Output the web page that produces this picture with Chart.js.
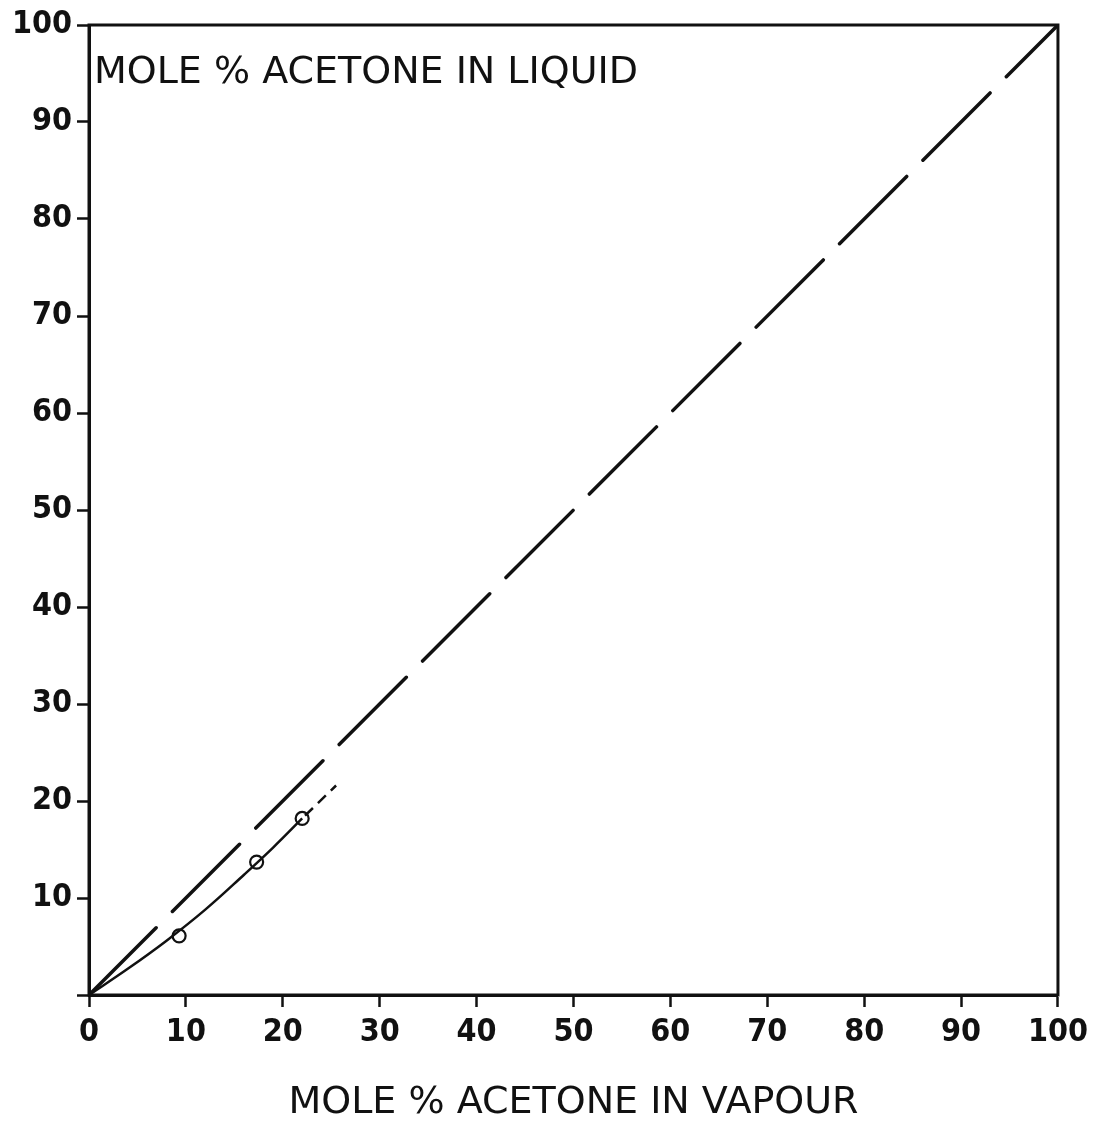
<!DOCTYPE html>
<html>
<head>
<meta charset="utf-8">
<script src="https://cdn.jsdelivr.net/npm/chart.js@4.4.1/dist/chart.umd.min.js"></script>
<style>
  html, body { margin: 0; padding: 0; background: #fff; }
  #wrap { width: 1094px; height: 1127px; }
</style>
</head>
<body>
<div id="wrap"><canvas id="vle"></canvas></div>
<script>
// acetone mole % : vapour (x) vs liquid (y)
const diagX = [0, 100];
const diagY = [0, 100];

const curveX = [0, 4, 8, 12, 16, 19, 22];
const curveY = [0, 2.7, 5.6, 8.8, 12.4, 15.2, 18.2];

const extX = [22, 25.5];
const extY = [18.2, 21.6];

const measuredX = [9.3, 17.3, 22.0];
const measuredY = [6.1, 13.7, 18.2];

const tickValues = [0, 10, 20, 30, 40, 50, 60, 70, 80, 90, 100];

const xTitle = "MOLE % ACETONE IN VAPOUR";
const yTitle = "MOLE % ACETONE IN LIQUID";

const INK = "#111";
const tickFont = { family: "DejaVu Sans Condensed", size: 32, weight: "bold" };
const titleFont = { family: "DejaVu Sans", size: 38 };

const pts = (xs, ys) => xs.map((x, i) => ({ x, y: ys[i] }));

// closed frame + the y label written inside the plot
const frameAndLabel = {
    id: "frameAndLabel",
    afterDraw(chart) {
        const { ctx, chartArea: a } = chart;
        ctx.save();
        ctx.strokeStyle = INK;
        ctx.lineWidth = 3;
        ctx.strokeRect(a.left, a.top, a.right - a.left, a.bottom - a.top);
        ctx.fillStyle = INK;
        ctx.font = `${titleFont.size}px "${titleFont.family}"`;
        ctx.textBaseline = "alphabetic";
        ctx.textAlign = "left";
        ctx.fillText(yTitle, a.left + 5, a.top + 58);
        ctx.restore();
    },
};

const axis = (min, max) => ({
    type: "linear",
    min,
    max,
    afterBuildTicks: (scale) => {
        scale.ticks = tickValues.map((v) => ({ value: v }));
    },
    grid: {
        drawOnChartArea: false,
        drawTicks: true,
        tickLength: 12,
        tickWidth: 2.5,
        tickColor: INK,
    },
    border: { display: true, color: INK, width: 3 },
    ticks: { color: INK, font: tickFont },
});

const xAxis = axis(0, 100);
xAxis.ticks.padding = 6;
xAxis.afterFit = (scale) => { scale.height = 132; };
xAxis.title = {
    display: true,
    text: xTitle,
    color: INK,
    font: titleFont,
    padding: { top: 0, bottom: 1 },
};

const yAxis = axis(0, 100);
yAxis.ticks.padding = 5;
yAxis.ticks.callback = (v) => (v === 0 ? "" : v);
yAxis.afterFit = (scale) => { scale.width = 89; };

new Chart(document.getElementById("vle"), {
    type: "scatter",
    data: {
        datasets: [
            {
                data: pts(diagX, diagY),
                showLine: true,
                borderColor: INK,
                borderWidth: 3.5,
                borderDash: [95, 23],
                borderCapStyle: "round",
                pointRadius: 0,
            },
            {
                data: pts(curveX, curveY),
                showLine: true,
                borderColor: INK,
                borderWidth: 2.5,
                tension: 0.4,
                pointRadius: 0,
            },
            {
                data: pts(extX, extY),
                showLine: true,
                borderColor: INK,
                borderWidth: 2.5,
                borderDash: [11, 7],
                borderDashOffset: -4,
                pointRadius: 0,
            },
            {
                data: pts(measuredX, measuredY),
                showLine: false,
                pointRadius: 6.5,
                pointBorderWidth: 2.2,
                pointBorderColor: INK,
                pointBackgroundColor: "#fff",
            },
        ],
    },
    options: {
        responsive: true,
        maintainAspectRatio: false,
        animation: false,
        layout: { padding: { top: 25, right: 36, left: 0, bottom: 0 } },
        plugins: {
            legend: { display: false },
            tooltip: { enabled: false },
        },
        scales: { x: xAxis, y: yAxis },
    },
    plugins: [frameAndLabel],
});
</script>
</body>
</html>
